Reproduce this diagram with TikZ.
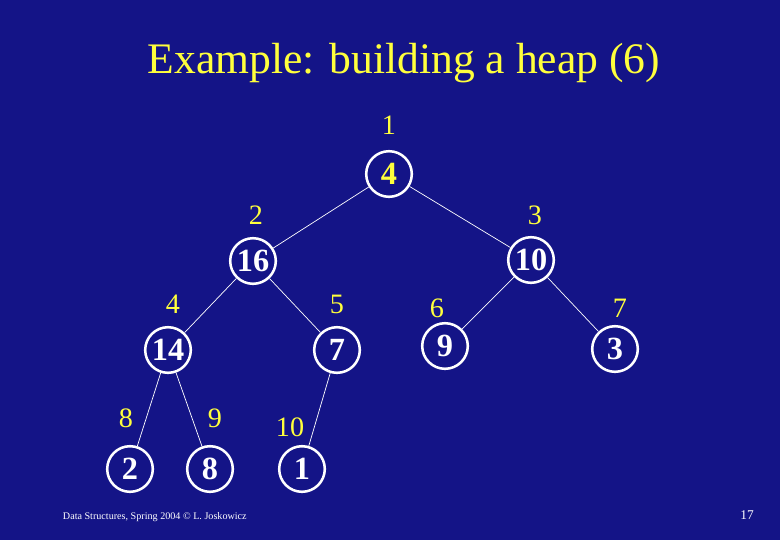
\documentclass[tikz,border=0pt]{standalone}
\usepackage{fontspec}
\setmainfont{Liberation Serif}
\usepackage{xcolor}
\usetikzlibrary{positioning}
\definecolor{slidebg}{RGB}{20,20,135}
\definecolor{heapyellow}{RGB}{255,255,60}

\begin{document}
\begin{tikzpicture}[
    x=0.025cm, y=-0.025cm,
    heapnode/.style={draw=white, line width=1.8pt, circle, minimum size=1.14cm, inner sep=0pt, text=white, font=\fontsize{23}{23}\selectfont\bfseries},
    idx/.style={text=heapyellow, font=\fontsize{20}{20}\selectfont},
    edge/.style={draw=white, line width=0.5pt}
]
\fill[slidebg] (0,0) rectangle (780,540);

% title
\node[text=heapyellow, font=\fontsize{31}{31}\selectfont] (title) at (404,63) {Example: building a heap (6)};

% heap nodes
\node[heapnode, text=heapyellow] (n1) at (389,174) {4};
\node[heapnode] (n2) at (253,261) {16};
\node[heapnode] (n3) at (531,260) {10};
\node[heapnode] (n4) at (168,350) {14};
\node[heapnode] (n5) at (337,350) {7};
\node[heapnode] (n6) at (445,346) {9};
\node[heapnode] (n7) at (615,349) {3};
\node[heapnode] (n8) at (130,469) {2};
\node[heapnode] (n9) at (210,469) {8};
\node[heapnode] (n10) at (302,469) {1};

% index labels
\node[idx] (i1) at (389,125) {1};
\node[idx] (i2) at (256,215) {2};
\node[idx] (i3) at (535,215) {3};
\node[idx] (i4) at (173,304) {4};
\node[idx] (i5) at (337,304) {5};
\node[idx] (i6) at (437,308) {6};
\node[idx] (i7) at (620,308) {7};
\node[idx] (i8) at (126,418) {8};
\node[idx] (i9) at (215,418) {9};
\node[idx] (i10) at (290,427) {10};

% edges
\draw[edge] (n1) -- (n2);
\draw[edge] (n1) -- (n3);
\draw[edge] (n2) -- (n4);
\draw[edge] (n2) -- (n5);
\draw[edge] (n3) -- (n6);
\draw[edge] (n3) -- (n7);
\draw[edge] (n4) -- (n8);
\draw[edge] (n4) -- (n9);
\draw[edge] (n5) -- (n10);

% footer
\node[text=white, font=\fontsize{7.2}{8}\selectfont, anchor=west] (footer) at (58,517) {Data Structures, Spring 2004 \textcopyright\ L. Joskowicz};
\node[text=white, font=\fontsize{9.5}{10}\selectfont] (page) at (747,515) {17};
\end{tikzpicture}
\end{document}
